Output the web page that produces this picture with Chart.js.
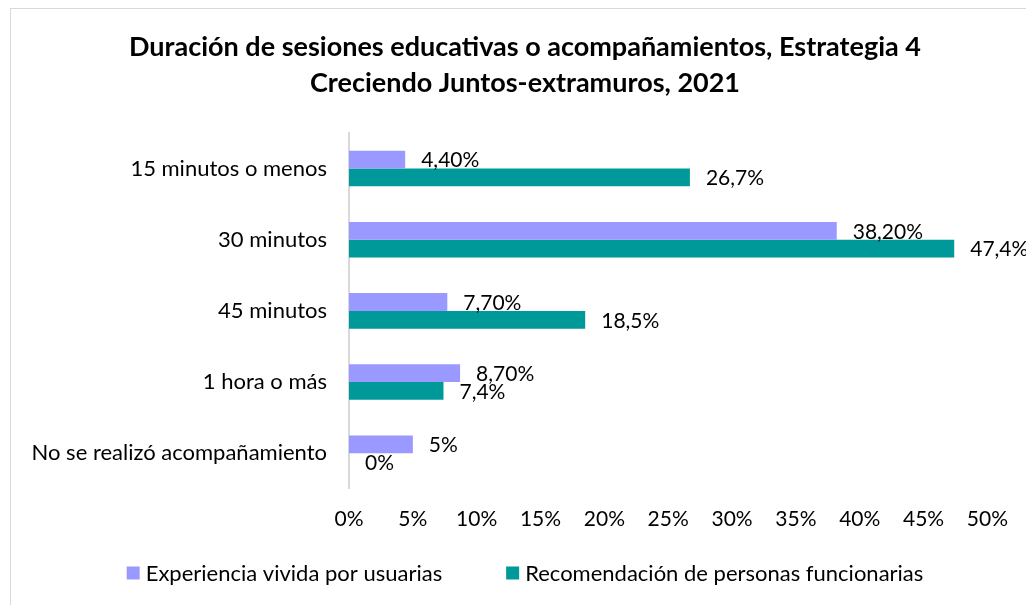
<!DOCTYPE html>
<html>
<head>
<meta charset="utf-8">
<script src="https://cdn.jsdelivr.net/npm/chart.js@4"></script>
<style>
  html, body { margin: 0; padding: 0; background: #fff; }
  #wrap { width: 1026px; height: 605px; }
</style>
</head>
<body>
<div id="wrap"><canvas id="durChart"></canvas></div>
<script>
// Data
const categories = ["15 minutos o menos", "30 minutos", "45 minutos", "1 hora o más", "No se realizó acompañamiento"];
const usuariasValues = [4.4, 38.2, 7.7, 8.7, 5];
const funcionariasValues = [26.7, 47.4, 18.5, 7.4, 0];
const usuariasLabels = ["4,40%", "38,20%", "7,70%", "8,70%", "5%"];
const funcionariasLabels = ["26,7%", "47,4%", "18,5%", "7,4%", "0%"];
const xTicks = [0, 5, 10, 15, 20, 25, 30, 35, 40, 45, 50];
const titleLines = ["Duración de sesiones educativas o acompañamientos, Estrategia 4", "Creciendo Juntos-extramuros, 2021"];

const FONT = "Lato, 'Open Sans', sans-serif";
Chart.defaults.font.family = FONT;
Chart.defaults.color = "#000";

// value labels next to the bar ends
const valueLabels = {
  id: "valueLabels",
  afterDatasetsDraw(chart) {
    const ctx = chart.ctx;
    const texts = [usuariasLabels, funcionariasLabels];
    ctx.save();
    ctx.font = "21px " + FONT;
    ctx.fillStyle = "#000";
    ctx.textAlign = "left";
    ctx.textBaseline = "middle";
    chart.data.datasets.forEach((ds, i) => {
      chart.getDatasetMeta(i).data.forEach((bar, j) => {
        ctx.fillText(texts[i][j], bar.x + 16, bar.y + 1);
      });
    });
    ctx.restore();
  },
};

// frame + title (title is centred on the original, wider chart box)
const frameTitle = {
  id: "frameTitle",
  beforeDraw(chart) {
    const ctx = chart.ctx;
    ctx.save();
    ctx.strokeStyle = "#d9d9d9";
    ctx.lineWidth = 1;
    ctx.strokeRect(10.5, 8.5, 1100, 700);
    ctx.font = "bold 27px " + FONT;
    ctx.fillStyle = "#000";
    ctx.textAlign = "center";
    ctx.textBaseline = "alphabetic";
    ctx.fillText(titleLines[0], 525, 56);
    ctx.fillText(titleLines[1], 525, 92);
    ctx.restore();
  },
};

// legend row at the bottom, wide gap between the two entries
const bottomLegend = {
  id: "bottomLegend",
  afterDraw(chart) {
    const ctx = chart.ctx;
    const ds = chart.data.datasets;
    const box = 13, gapBox = 6, gapItem = 64, y = 573;
    ctx.save();
    ctx.font = "22px " + FONT;
    ctx.textBaseline = "middle";
    ctx.textAlign = "left";
    const widths = ds.map((d) => ctx.measureText(d.label).width);
    const total = widths.reduce((a, w) => a + box + gapBox + w, 0) + gapItem * (ds.length - 1);
    let x = 525 - total / 2;
    ds.forEach((d, i) => {
      ctx.fillStyle = d.backgroundColor;
      ctx.fillRect(x, y - box / 2, box, box);
      ctx.fillStyle = "#000";
      ctx.fillText(d.label, x + box + gapBox, y + 1);
      x += box + gapBox + widths[i] + gapItem;
    });
    ctx.restore();
  },
};

const durData = {
  labels: categories,
  datasets: [
    {
      label: "Experiencia vivida por usuarias",
      data: usuariasValues,
      backgroundColor: "#9999ff",
    },
    {
      label: "Recomendación de personas funcionarias",
      data: funcionariasValues,
      backgroundColor: "#009999",
    },
  ],
};

const durConfig = {
  type: "bar",
  data: durData,
  plugins: [frameTitle, valueLabels, bottomLegend],
  options: {
    indexAxis: "y",
    responsive: true,
    maintainAspectRatio: false,
    animation: false,
    datasets: { bar: { categoryPercentage: 0.5, barPercentage: 1 } },
    layout: { padding: { left: 0, right: 36, top: 133, bottom: 55 } },
    plugins: {
      tooltip: { enabled: false },
      title: { display: false },
      legend: { display: false },
    },
    scales: {
      x: {
        min: 0,
        max: 50,
        afterBuildTicks(scale) {
          scale.ticks = xTicks.map((v) => ({ value: v }));
        },
        ticks: {
          callback: (v) => v + "%",
          font: { size: 21 },
          color: "#000",
          padding: 18,
          maxRotation: 0,
        },
        grid: { display: false, drawTicks: false },
        border: { display: false },
      },
      y: {
        afterFit(scale) {
          scale.width = 349;
        },
        ticks: {
          font: { size: 22 },
          color: "#000",
          padding: 22,
        },
        grid: { display: false, drawTicks: false },
        border: { display: true, color: "#d9d9d9", width: 2 },
      },
    },
  },
};

const durChart = new Chart(document.getElementById("durChart"), durConfig);
</script>
</body>
</html>
